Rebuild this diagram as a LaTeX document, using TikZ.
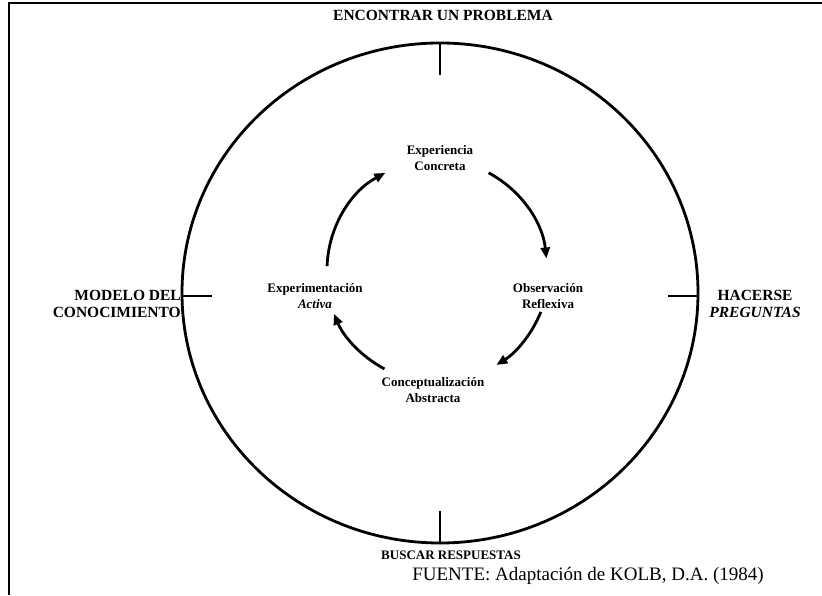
\documentclass[tikz,border=0pt]{standalone}
\usepackage{fontspec}
\setmainfont{Liberation Serif}
\usetikzlibrary{arrows.meta}
\tikzset{
  outer/.style={line width=2.8pt},
  tick/.style={line width=2.8pt},
  cyc/.style={line width=2.8pt,-{Triangle[length=11pt,width=9pt]}},
  caplbl/.style={font=\bfseries\fontsize{15.5}{17}\selectfont,inner sep=0pt,align=center},
  innerlbl/.style={font=\bfseries\fontsize{13}{16}\selectfont,inner sep=0pt,align=center},
  frame/.style={line width=2.8pt}
}
\begin{document}
\begin{tikzpicture}[x=1pt,y=1pt]
\useasboundingbox (0,0) rectangle (822,595);
% frame
\draw[frame] (8,592) -- (822,592);
\draw[frame] (9,592) -- (9,0);
% outer circle
\coordinate (O) at (440,302);
\draw[outer] (O) ellipse [x radius=258, y radius=250];
\coordinate (tT) at (440,552);
\coordinate (tB) at (440,52);
\coordinate (tL) at (182,299);
\coordinate (tR) at (698,299);
\draw[tick] (tT) -- ++(0,-32);
\draw[tick] (tB) -- ++(0,32);
\draw[tick] (tL) -- ++(30,0);
\draw[tick] (tR) -- ++(-30,0);
% outer labels
\node[caplbl] (enc) at (443,580) {ENCONTRAR UN PROBLEMA};
\node[caplbl,anchor=east,align=right] (mod) at (181,291) {MODELO DEL\\CONOCIMIENTO};
\node[caplbl] (hac) at (755,291) {HACERSE\\\textit{PREGUNTAS}};
\node[caplbl,font=\bfseries\fontsize{13}{15}\selectfont] (bus) at (451,40) {BUSCAR RESPUESTAS};
\node[font=\fontsize{19}{21}\selectfont,inner sep=0pt] (fue) at (588,19) {FUENTE: Adaptación de KOLB, D.A. (1984)};
% inner labels
\node[innerlbl] (exp) at (440,437) {Experiencia\\Concreta};
\node[innerlbl] (obs) at (548,299) {Observación\\Reflexiva};
\node[innerlbl] (con) at (433,205) {Conceptualización\\Abstracta};
\node[innerlbl] (act) at (315,299) {Experimentación\\\textit{Activa}};
% cycle arrows
\coordinate (C) at (437,325);
\draw[cyc] ([shift={(178:110)}]C) arc[start angle=178,end angle=118,radius=110];
\draw[cyc] ([shift={(62:110)}]C) arc[start angle=62,end angle=6,radius=110];
\draw[cyc] ([shift={(-22:112)}]C) arc[start angle=-22,end angle=-58,radius=112];
\draw[cyc] ([shift={(-118:112)}]C) arc[start angle=-118,end angle=-157,radius=112];
\end{tikzpicture}
\end{document}
